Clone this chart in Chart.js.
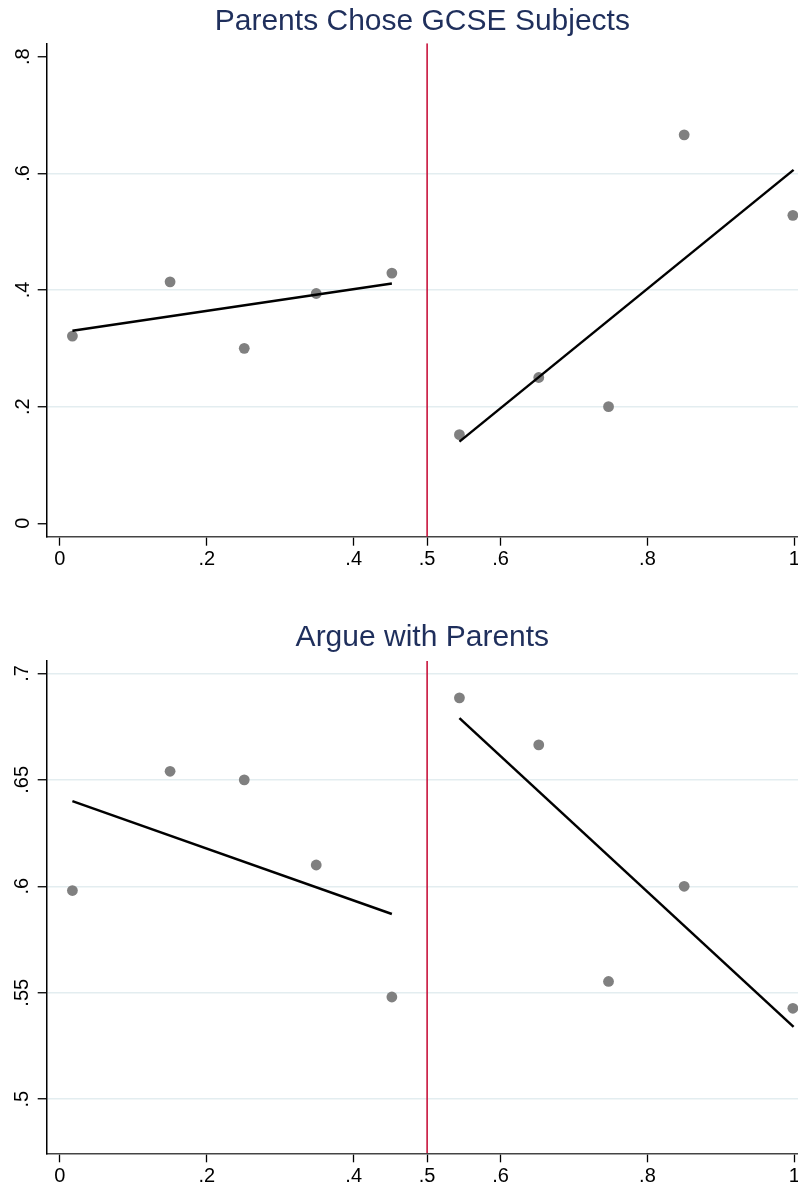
<!DOCTYPE html>
<html>
<head>
<meta charset="utf-8">
<script src="https://cdn.jsdelivr.net/npm/chart.js@4"></script>
<style>
  body { margin: 0; background: #fff; }
  canvas { display: block; }
</style>
</head>
<body>
<canvas id="chartTop" width="798" height="593"></canvas>
<canvas id="chartBottom" width="798" height="593"></canvas>
<script>
// bin midpoints on each side of the .5 cutoff
const leftX = [0.017, 0.15, 0.251, 0.349, 0.452];
const rightX = [0.544, 0.652, 0.747, 0.85, 0.998];
const cutoff = 0.5;

// Parents Chose GCSE Subjects
const gcseLeft = [0.321, 0.414, 0.300, 0.394, 0.429];
const gcseRight = [0.152, 0.250, 0.200, 0.666, 0.528];
const gcseFitLeft = [0.330, 0.411];
const gcseFitRight = [0.140, 0.606];

// Argue with Parents
const argueLeft = [0.598, 0.654, 0.650, 0.610, 0.548];
const argueRight = [0.6885, 0.6664, 0.5553, 0.600, 0.5427];
const argueFitLeft = [0.640, 0.587];
const argueFitRight = [0.679, 0.534];

const fitLeftX = [0.017, 0.452];
const fitRightX = [0.544, 0.999];

const xTicks = [0, 0.2, 0.4, 0.5, 0.6, 0.8, 1];
const xTickLabels = ['0', '.2', '.4', '.5', '.6', '.8', '1'];
const gcseTicks = [0, 0.2, 0.4, 0.6, 0.8];
const gcseTickLabels = ['0', '.2', '.4', '.6', '.8'];
const argueTicks = [0.5, 0.55, 0.6, 0.65, 0.7];
const argueTickLabels = ['.5', '.55', '.6', '.65', '.7'];

const FONT = 'Liberation Sans, Arial, Helvetica, sans-serif';

function pts(xs, ys) {
    return xs.map((x, i) => ({ x: x, y: ys[i] }));
}

function makeChart(id, cfg) {
    const datasets = [
        {
            type: 'line',
            data: [{ x: cutoff, y: cfg.yMin }, { x: cutoff, y: cfg.yMax }],
            borderColor: '#c8143c',
            borderWidth: 1.6,
            pointRadius: 0,
            order: 3
        },
        {
            type: 'scatter',
            data: pts(leftX, cfg.left).concat(pts(rightX, cfg.right)),
            backgroundColor: '#808080',
            borderWidth: 0,
            pointRadius: 5.4,
            order: 2
        },
        {
            type: 'line',
            data: pts(fitLeftX, cfg.fitLeft),
            borderColor: '#000',
            borderWidth: 2.5,
            pointRadius: 0,
            order: 1
        },
        {
            type: 'line',
            data: pts(fitRightX, cfg.fitRight),
            borderColor: '#000',
            borderWidth: 2.5,
            pointRadius: 0,
            order: 1
        }
    ];

    new Chart(document.getElementById(id), {
        type: 'scatter',
        data: { datasets: datasets },
        options: {
            responsive: false,
            animation: false,
            events: [],
            layout: {
                autoPadding: false,
                padding: { top: cfg.padTop, left: 0, right: 0, bottom: 0 }
            },
            plugins: {
                legend: { display: false },
                tooltip: { enabled: false },
                title: {
                    display: true,
                    text: cfg.title,
                    fullSize: false,
                    color: '#1f2f5c',
                    font: { family: FONT, size: 30, weight: 'normal' },
                    padding: { top: 3.5, bottom: cfg.titleBottom }
                }
            },
            scales: {
                x: {
                    type: 'linear',
                    min: -0.018,
                    max: 1.005,
                    afterBuildTicks: function (scale) {
                        scale.ticks = xTicks.map(v => ({ value: v }));
                    },
                    afterFit: function (scale) {
                        scale.height = cfg.xHeight;
                        scale.paddingLeft = 0;
                        scale.paddingRight = 0;
                    },
                    ticks: {
                        color: '#000',
                        font: { family: FONT, size: 20 },
                        padding: 2,
                        maxRotation: 0,
                        autoSkip: false,
                        callback: function (v) {
                            const i = xTicks.indexOf(v);
                            return i >= 0 ? xTickLabels[i] : '';
                        }
                    },
                    grid: {
                        drawOnChartArea: false,
                        tickLength: 9,
                        tickColor: '#000',
                        tickWidth: 1.3
                    },
                    border: { color: '#444', width: 1.5 }
                },
                y: {
                    type: 'linear',
                    min: cfg.yMin,
                    max: cfg.yMax,
                    afterBuildTicks: function (scale) {
                        scale.ticks = cfg.yTicks.map(v => ({ value: v }));
                    },
                    afterFit: function (scale) {
                        scale.width = 46.7;
                        scale.paddingTop = 0;
                        scale.paddingBottom = 0;
                    },
                    ticks: {
                        color: '#000',
                        font: { family: FONT, size: 20 },
                        minRotation: 90,
                        maxRotation: 90,
                        crossAlign: 'center',
                        padding: cfg.yPad,
                        autoSkip: false,
                        callback: function (v) {
                            const i = cfg.yTicks.indexOf(v);
                            return i >= 0 ? cfg.yLabels[i] : '';
                        }
                    },
                    grid: {
                        color: function (ctx) {
                            if (ctx.tick && cfg.noGrid.indexOf(ctx.tick.value) >= 0) {
                                return 'rgba(0,0,0,0)';
                            }
                            return '#e3edf0';
                        },
                        lineWidth: 1.5,
                        tickLength: 9,
                        tickColor: '#000',
                        tickWidth: 1.3
                    },
                    border: { color: '#000', width: 1.5 }
                }
            }
        }
    });
}

makeChart('chartTop', {
    title: 'Parents Chose GCSE Subjects',
    left: gcseLeft, right: gcseRight,
    fitLeft: gcseFitLeft, fitRight: gcseFitRight,
    yMin: -0.023, yMax: 0.823,
    yTicks: gcseTicks, yLabels: gcseTickLabels,
    noGrid: [0, 0.8],
    padTop: 0, titleBottom: 3.8,
    xHeight: 56.3,
    yPad: 6
});

makeChart('chartBottom', {
    title: 'Argue with Parents',
    left: argueLeft, right: argueRight,
    fitLeft: argueFitLeft, fitRight: argueFitRight,
    yMin: 0.4746, yMax: 0.7058,
    yTicks: argueTicks, yLabels: argueTickLabels,
    noGrid: [],
    padTop: 22.8, titleBottom: 5.7,
    xHeight: 32.7,
    yPad: 1
});
</script>
</body>
</html>
